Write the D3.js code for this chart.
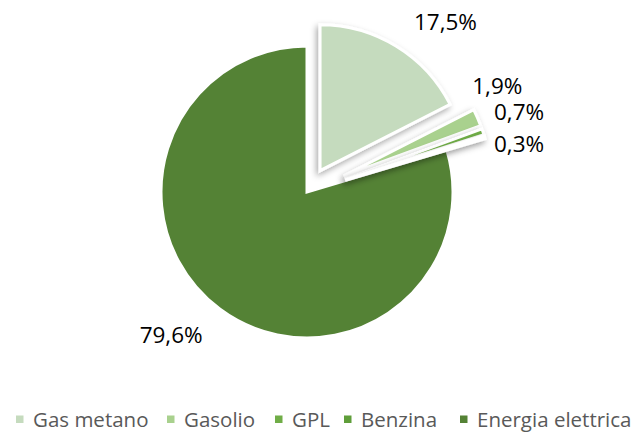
<!DOCTYPE html>
<html><head><meta charset="utf-8">
<script src="https://cdn.jsdelivr.net/npm/d3@7"></script>
<style>
html,body{margin:0;padding:0;background:#fff;}
svg{display:block;}
</style></head>
<body>
<svg id="chart" width="640" height="435"></svg>
<script>
// ---- data ----
const categories = ["Gas metano", "Gasolio", "GPL", "Benzina", "Energia elettrica"];
const values = [17.5, 1.9, 0.7, 0.3, 79.6];
const colors = ["#c5dbbe", "#a9d18e", "#70ad47", "#5f9e3a", "#548235"];

// ---- layout ----
const cx = 307, cy = 192, R = 146;
const explode = [25, 40, 40, 40, 0];
// label placement: [angle in degrees clockwise from 12 o'clock, distance from centre]
const labelPos = [[39, 220], [60.8, 218], [69.2, 226.8], [77.0, 217.6], [223.6, 197]];
const legendX = [16, 167, 275, 344, 460];
const legendY = 419;
const fontFam = "'Open Sans', Carlito, Calibri, sans-serif";

const svg = d3.select("#chart");
const defs = svg.append("defs");
const f = defs.append("filter").attr("id","sh").attr("x","-20%").attr("y","-20%").attr("width","140%").attr("height","140%");
f.append("feDropShadow").attr("dx",-2).attr("dy",3).attr("stdDeviation",3).attr("flood-color","#000").attr("flood-opacity",0.35);

const pie = d3.pie().sort(null).value(d => d)(values);
const arc = d3.arc().innerRadius(0).outerRadius(R);

const g = svg.append("g").attr("transform", `translate(${cx},${cy})`);
const order = [4, 0, 1, 2, 3];
order.forEach(i => {
  const d = pie[i];
  const mid = (d.startAngle + d.endAngle) / 2;
  const ox = Math.sin(mid) * explode[i], oy = -Math.cos(mid) * explode[i];
  g.append("path")
    .attr("d", arc(d))
    .attr("transform", `translate(${ox},${oy})`)
    .attr("fill", colors[i])
    .attr("stroke", "#fff")
    .attr("stroke-width", 3)
    .attr("stroke-linejoin", "miter")
    .attr("filter", explode[i] > 0 ? "url(#sh)" : null);
});

// labels
const fmt = v => d3.format(".1f")(v).replace(".", ",") + "%";
values.forEach((v, i) => {
  const a = labelPos[i][0] * Math.PI / 180, r = labelPos[i][1];
  svg.append("text")
    .attr("x", cx + Math.sin(a) * r)
    .attr("y", cy - Math.cos(a) * r)
    .attr("text-anchor", "middle")
    .attr("dominant-baseline", "central")
    .attr("font-family", fontFam)
    .attr("font-size", 22.5)
    .attr("fill", "#000")
    .text(fmt(v));
});

// legend
categories.forEach((c, i) => {
  const lg = svg.append("g").attr("transform", `translate(${legendX[i]},${legendY})`);
  lg.append("rect").attr("x", 0).attr("y", -3.5).attr("width", 7.5).attr("height", 7.5).attr("fill", colors[i]);
  lg.append("text").attr("x", 17).attr("y", 8)
    .attr("font-family", fontFam)
    .attr("font-size", 20.5)
    .attr("fill", "#595959")
    .text(c);
});
</script>
</body></html>
